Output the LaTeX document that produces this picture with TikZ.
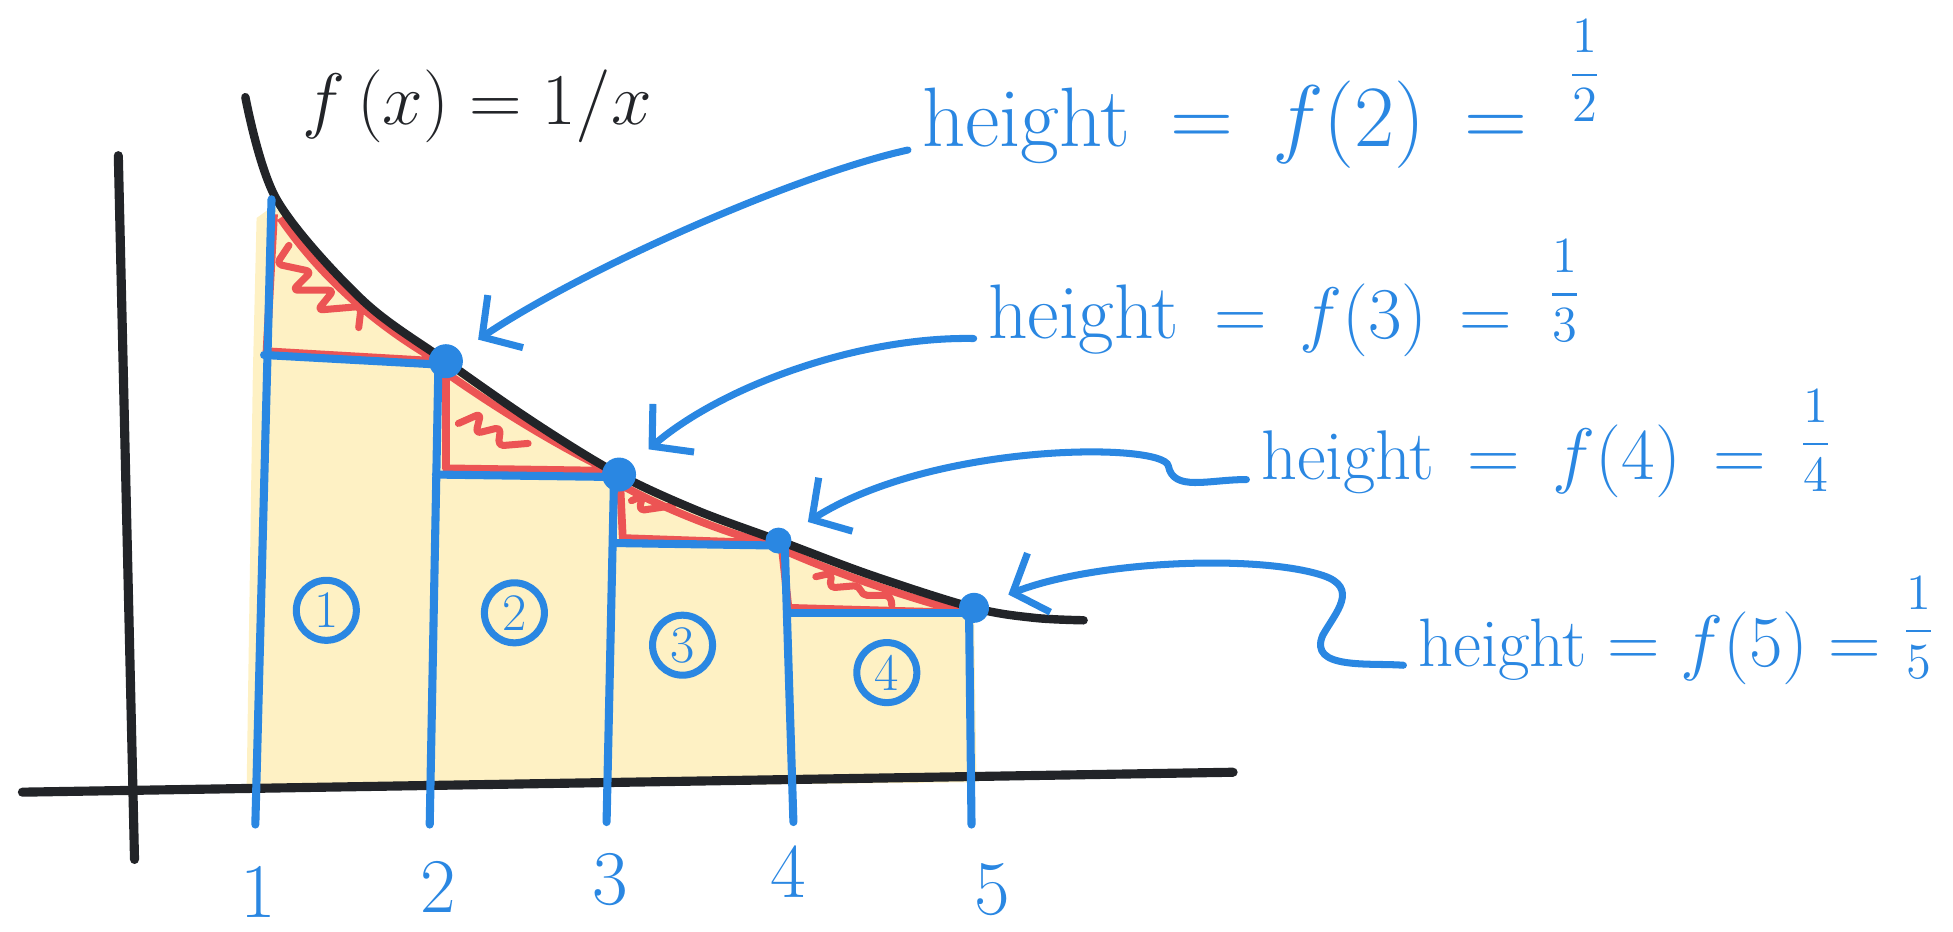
\documentclass[tikz,border=0pt]{standalone}
\usepackage{amsmath}
\usepackage{xcolor}
\usetikzlibrary{arrows.meta, calc, positioning}
\definecolor{blueink}{RGB}{42,135,226}
\definecolor{redink}{RGB}{236,84,84}
\definecolor{blackink}{RGB}{34,36,40}
\definecolor{areafill}{RGB}{254,241,196}
\tikzset{
        axisline/.style = {draw=blackink, line width=2.6pt, line cap=round},
        graphline/.style = {draw=blackink, line width=2.4pt, line cap=round},
        stripline/.style = {draw=blueink, line width=2.3pt, line cap=round, line join=round},
        redtri/.style = {draw=redink, line width=2.2pt, line join=round},
        squiggle/.style = {draw=redink, line width=2pt, line cap=round, line join=round, rounded corners=1.5pt},
        hitpoint/.style = {circle, fill=blueink, inner sep=0pt, minimum size=#1},
        hitpoint/.default = 0.34cm,
        pointer/.style = {draw=blueink, line width=2pt, line cap=round,
            -{Straight Barb[length=8pt,width=18pt]}, shorten >=6pt, shorten <=4pt},
        ticklabel/.style = {text=blueink, inner sep=0pt, font=\fontsize{22}{26}\selectfont},
        circled/.style = {circle, draw=blueink, line width=2pt, text=blueink, inner sep=0pt,
            minimum size=0.6cm, font=\fontsize{15}{17}\selectfont},
        heightlbl/.style = {text=blueink, inner sep=0pt, anchor=base west,
            font=\fontsize{#1}{#1}\selectfont},
}
\newcommand{\upfrac}[2]{\raisebox{#1}{\fontsize{15}{15}\selectfont$\displaystyle\frac{1}{#2}$}}

\begin{document}
\begin{tikzpicture}[x=0.012455cm, y=-0.012455cm]
\useasboundingbox (0,0) rectangle (1568,748);
\fill[areafill] plot[smooth, tension=0.55] coordinates {(220,165) (290,240) (358,290) (430,340) (497,381) (560,410) (625,434) (700,462) (782,488)}
    -- (784,628) -- (198,634) -- (203,300) -- (206,175) -- cycle;
\draw[axisline] (95,125) -- (108,690);
\draw[axisline] (18,636) -- (990,620);
\draw[redtri] (220,172) -- (214,282) -- (352,290) .. controls (310,266) and (262,229) .. (225,175);
\draw[redtri] (358,302) -- (358,376) -- (490,378) .. controls (455,362) and (405,332) .. (362,302);
\draw[redtri] (498,390) -- (500,432) -- (615,436) .. controls (580,427) and (530,407) .. (500,390);
\draw[redtri] (628,442) -- (633,488) -- (775,492) .. controls (730,480) and (670,460) .. (630,442);
\draw[squiggle] (232,197) -- (222,212) -- (250,218) -- (235,233) -- (268,233) -- (255,249) -- (290,246) -- (288,263);
\draw[squiggle] (368,340) -- (386,332) -- (382,348) -- (402,343) -- (400,358) -- (424,356);
\draw[squiggle] (507,402) -- (516,398) -- (513,410) -- (540,406);
\draw[squiggle] (655,463) -- (668,460) -- (666,472) -- (690,470) -- (692,478) -- (715,478) -- (716,486);
\draw[graphline] plot[smooth, tension=0.55] coordinates {(197,78) (222,160) (290,240) (358,290) (430,340) (497,381) (560,410) (625,434) (700,462) (782,488) (830,496) (870,498)};
\draw[stripline] (218,160) -- (205,662);
\draw[stripline] (352,292) -- (345,662);
\draw[stripline] (493,383) -- (487,660);
\draw[stripline] (630,436) -- (637,660);
\draw[stripline] (778,490) -- (780,662);
\draw[stripline] (212,285) -- (358,293);
\draw[stripline] (350,381) -- (497,383);
\draw[stripline] (495,436) -- (625,438);
\draw[stripline] (632,492) -- (782,492);
\node[hitpoint] (d2) at (358,290) {};
\node[hitpoint] (d3) at (497,381) {};
\node[hitpoint=0.26cm] (d4) at (625,434) {};
\node[hitpoint=0.3cm] (d5) at (782,488) {};
\node[circled] (r1) at (262,490) {1};
\node[circled] (r2) at (413,492) {2};
\node[circled] (r3) at (548,518) {3};
\node[circled] (r4) at (712,540) {4};
\node[ticklabel] (t1) at (207,716) {1};
\node[ticklabel] (t2) at (352,712) {2};
\node[ticklabel] (t3) at (490,706) {3};
\node[ticklabel] (t4) at (633,700) {4};
\node[ticklabel] (t5) at (797,714) {5};
\node[text=blackink, font=\fontsize{21}{24}\selectfont] (title) at (383,85) {$f\,(x) = 1/x$};
\node[heightlbl=24] (h2) at (740,118) {height $\,=\, f(2) \,=\,$ \upfrac{17pt}{2}};
\node[heightlbl=22] (h3) at (793,272) {height $\,=\, f(3) \,=\,$ \upfrac{9pt}{3}};
\node[heightlbl=20] (h4) at (1012,385) {height $\,=\, f(4) \,=\,$ \upfrac{6.5pt}{4}};
\node[heightlbl=19.5] (h5) at (1138,535) {height $= f(5) =$ \upfrac{6.5pt}{5}};
\draw[pointer] (h2.base west) .. controls (640,140) and (470,215) .. (d2);
\draw[pointer] (h3.base west) .. controls (690,270) and (580,310) .. (d3);
\draw[pointer] (h4.base west) .. controls (970,385) and (942,395) .. (938,374)
    .. controls (934,355) and (750,355) .. (d4);
\draw[pointer] (h5.base west) .. controls (1100,532) and (1050,538) .. (1062,510)
    .. controls (1072,492) and (1092,472) .. (1062,462)
    .. controls (1010,445) and (880,450) .. (d5);
\end{tikzpicture}
\end{document}
